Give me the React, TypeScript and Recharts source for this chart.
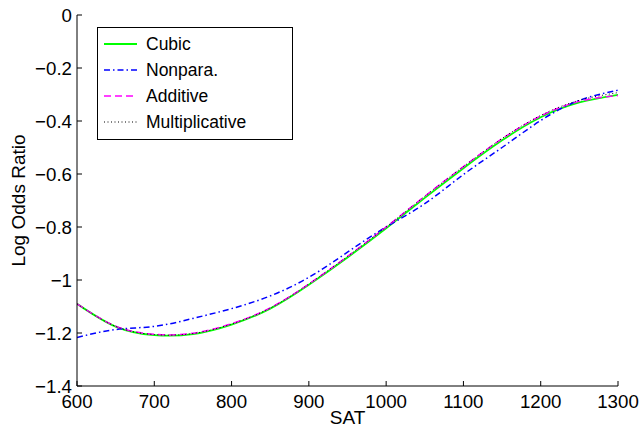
import { LineChart, Line, XAxis, YAxis, Label } from "recharts";

const sat = [600, 650, 700, 750, 800, 850, 900, 950, 1000, 1050, 1100, 1150, 1200, 1250, 1300];
const cubic = [-1.09, -1.176, -1.208, -1.204, -1.168, -1.108, -1.018, -0.915, -0.805, -0.69, -0.578, -0.473, -0.386, -0.33, -0.301];
const nonpara = [-1.217, -1.187, -1.175, -1.145, -1.108, -1.06, -0.99, -0.895, -0.8, -0.712, -0.602, -0.5, -0.398, -0.322, -0.284];
const additive = [-1.09, -1.174, -1.205, -1.201, -1.165, -1.105, -1.015, -0.911, -0.8, -0.684, -0.572, -0.467, -0.381, -0.326, -0.304];
const multiplicative = [-1.09, -1.175, -1.206, -1.202, -1.166, -1.106, -1.015, -0.911, -0.8, -0.684, -0.572, -0.466, -0.379, -0.322, -0.293];

const xTicks = [600, 700, 800, 900, 1000, 1100, 1200, 1300];
const yTicks = [0, -0.2, -0.4, -0.6, -0.8, -1, -1.2, -1.4];

const FONT = '"Liberation Sans", Arial, Helvetica, sans-serif';

const series = [
  { key: "cubic", name: "Cubic", color: "#00ff00", width: 1.8, dash: undefined },
  { key: "nonpara", name: "Nonpara.", color: "#0000ff", width: 1.5, dash: "6 3 1.5 3" },
  { key: "additive", name: "Additive", color: "#ff00ff", width: 1.5, dash: "7 4" },
  { key: "multiplicative", name: "Multiplicative", color: "#000000", width: 1, dash: "1 2.5" },
];

const data = sat.map((s, i) => ({
  sat: s,
  cubic: cubic[i],
  nonpara: nonpara[i],
  additive: additive[i],
  multiplicative: multiplicative[i],
}));

const fmtY = (v: number) => (v === 0 ? "0" : String(Number(v.toFixed(1))).replace("-", "\u2212"));

const tickStyle = { fontSize: 18.7, fill: "#000", fontFamily: FONT };
const labelStyle = { fontSize: 19, fill: "#000", fontFamily: FONT };

function ChartLegend() {
  return (
    <div
      style={{
        position: "absolute",
        left: 97,
        top: 27,
        width: 196,
        height: 113,
        boxSizing: "border-box",
        border: "1px solid #000",
        background: "#fff",
        paddingTop: 3,
        fontFamily: FONT,
        fontSize: 17.5,
        color: "#000",
      }}
    >
      {series.map((s) => (
        <div key={s.key} style={{ display: "flex", alignItems: "center", height: 26 }}>
          <svg width={33} height={6} style={{ marginLeft: 6, marginRight: 9 }}>
            <line x1={0} y1={3} x2={33} y2={3} stroke={s.color} strokeWidth={s.width} strokeDasharray={s.dash} />
          </svg>
          <span>{s.name}</span>
        </div>
      ))}
    </div>
  );
}

export default function App() {
  return (
    <div style={{ position: "absolute", left: 0, top: 0, width: 642, height: 430, background: "#fff" }}>
      <LineChart width={642} height={430} data={data} margin={{ top: 15, right: 24, bottom: 0, left: 0 }}>
        <XAxis
          dataKey="sat"
          type="number"
          domain={[600, 1300]}
          ticks={xTicks}
          allowDataOverflow
          height={44}
          tickSize={-5}
          tickMargin={14}
          tick={tickStyle}
          axisLine={{ stroke: "#000" }}
          tickLine={{ stroke: "#000" }}
        >
          <Label value="SAT" position="insideBottom" offset={6} style={labelStyle} />
        </XAxis>
        <XAxis
          xAxisId="top"
          dataKey="sat"
          type="number"
          orientation="top"
          domain={[600, 1300]}
          ticks={xTicks}
          allowDataOverflow
          height={0}
          tickSize={-5}
          tick={false}
          axisLine={{ stroke: "#000" }}
          tickLine={{ stroke: "#000" }}
        />
        <YAxis
          type="number"
          domain={[-1.4, 0]}
          ticks={yTicks}
          allowDataOverflow
          width={77}
          tickSize={-5}
          tickMargin={10}
          tickFormatter={fmtY}
          tick={tickStyle}
          axisLine={{ stroke: "#000" }}
          tickLine={{ stroke: "#000" }}
        >
          <Label
            value="Log Odds Ratio"
            angle={-90}
            position="insideLeft"
            offset={18}
            style={{ ...labelStyle, textAnchor: "middle" }}
          />
        </YAxis>
        <YAxis
          yAxisId="right"
          orientation="right"
          type="number"
          domain={[-1.4, 0]}
          ticks={yTicks}
          allowDataOverflow
          width={0}
          tickSize={-5}
          tick={false}
          axisLine={{ stroke: "#000" }}
          tickLine={{ stroke: "#000" }}
        />
        {series.map((s) => (
          <Line
            key={s.key}
            dataKey={s.key}
            type="natural"
            stroke={s.color}
            strokeWidth={s.width}
            strokeDasharray={s.dash}
            dot={false}
            activeDot={false}
            isAnimationActive={false}
          />
        ))}
      </LineChart>
      <ChartLegend />
    </div>
  );
}
